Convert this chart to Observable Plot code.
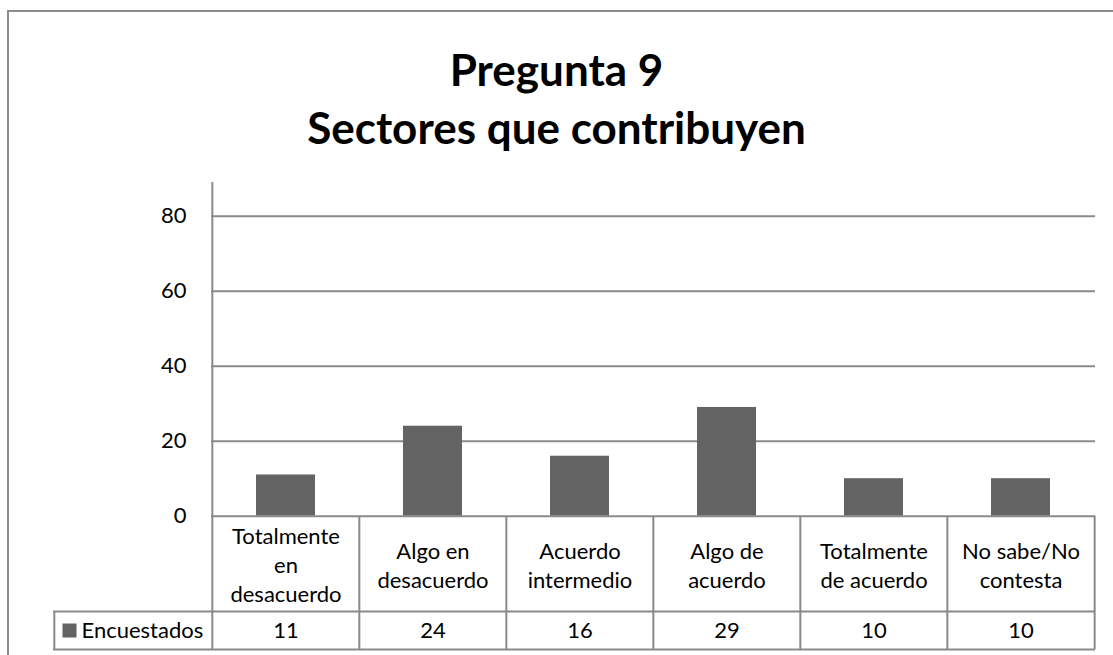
<!DOCTYPE html>
<html>
<head>
<meta charset="utf-8">
<script src="https://cdn.jsdelivr.net/npm/d3@7"></script>
<script src="https://cdn.jsdelivr.net/npm/@observablehq/plot@0.6"></script>
<style>
  html, body { margin: 0; padding: 0; background: #fff; overflow: hidden; }
  body { width: 1113px; height: 655px; position: relative; font-family: Lato, "Open Sans", sans-serif; }
  #box { position: absolute; left: 7px; top: 10px; width: 1200px; height: 800px;
         border-top: 2px solid #8c8c8c; border-left: 2px solid #8c8c8c; box-sizing: border-box; }
  #title { position: absolute; left: 0; top: 40px; width: 1113px; text-align: center;
           font-family: Lato, sans-serif; font-weight: 700; font-size: 44px; line-height: 58px; color: #000; }
  #chart { position: absolute; left: 0; top: 165px; }
</style>
</head>
<body>
<div id="box"></div>
<div id="title">Pregunta 9<br>Sectores que contribuyen</div>
<div id="chart"></div>
<script>
// ---- data ----
const categories = ["Totalmente en desacuerdo", "Algo en desacuerdo", "Acuerdo intermedio", "Algo de acuerdo", "Totalmente de acuerdo", "No sabe/No contesta"];
const tickLabels = ["Totalmente\nen\ndesacuerdo", "Algo en\ndesacuerdo", "Acuerdo\nintermedio", "Algo de\nacuerdo", "Totalmente\nde acuerdo", "No sabe/No\ncontesta"];
const encuestados = [11, 24, 16, 29, 10, 10];
const seriesName = "Encuestados";
const yTickValues = [0, 20, 40, 60, 80];

// ---- layout ----
const W = 1113, H = 490;
const mTop = 17, mBottom = 139.3, mLeft = 211, mRight = 18;
const frameH = H - mTop - mBottom;
const step = (W - mLeft - mRight) / categories.length;
const headerH = 95.3, rowH = 38;
const legendW = 158;
const grid = "#8a8a8a";
const barColor = "#636363";

const rows = categories.map((c, i) => ({cat: c, label: tickLabels[i], value: encuestados[i]}));

const chart = Plot.plot({
  width: W,
  height: H,
  marginTop: mTop,
  marginBottom: mBottom,
  marginLeft: mLeft,
  marginRight: mRight,
  style: {fontFamily: "Lato, 'Open Sans', sans-serif", fontSize: "22px", color: "#000", background: "transparent", overflow: "visible"},
  x: {type: "band", domain: categories, paddingInner: 0.6, paddingOuter: 0.3, axis: null},
  y: {domain: [0, 89], ticks: yTickValues, tickSize: 0, tickPadding: 25, label: null},
  marks: [
    // gridlines
    Plot.ruleY(yTickValues.filter(d => d > 0), {stroke: grid, strokeWidth: 2}),
    // bars
    Plot.barY(rows, {x: "cat", y: "value", fill: barColor}),
    // zero line / top of table
    Plot.ruleY([0], {stroke: grid, strokeWidth: 2}),
    // table row lines
    Plot.ruleY([0], {stroke: grid, strokeWidth: 2, dy: headerH, insetLeft: -legendW}),
    Plot.ruleY([0], {stroke: grid, strokeWidth: 2, dy: headerH + rowH, insetLeft: -legendW}),
    // y axis line continuing down the table
    Plot.ruleX([categories[0]], {dx: -step / 2, stroke: grid, strokeWidth: 2, insetBottom: -(headerH + rowH)}),
    // cell borders
    Plot.ruleX(categories.slice(1), {dx: -step / 2, stroke: grid, strokeWidth: 2, insetTop: frameH, insetBottom: -(headerH + rowH)}),
    Plot.ruleX([categories[categories.length - 1]], {dx: step / 2, stroke: grid, strokeWidth: 2, insetTop: frameH, insetBottom: -(headerH + rowH)}),
    // legend cell left border
    Plot.ruleX([categories[0]], {dx: -step / 2 - legendW, stroke: grid, strokeWidth: 2, insetTop: frameH + headerH, insetBottom: -(headerH + rowH)}),
    // category labels
    Plot.text(rows, {x: "cat", text: "label", frameAnchor: "bottom", dy: headerH / 2, lineAnchor: "middle", lineHeight: 1.32, fill: "#000"}),
    // values
    Plot.text(rows, {x: "cat", text: d => String(d.value), frameAnchor: "bottom", dy: headerH + rowH / 2, lineAnchor: "middle", fill: "#000"}),
    // legend
    Plot.dot([seriesName], {frameAnchor: "bottom-left", symbol: "square", r: 7.9, fill: barColor, dx: -142, dy: headerH + rowH / 2}),
    Plot.text([seriesName], {frameAnchor: "bottom-left", text: d => d, textAnchor: "start", lineAnchor: "middle", dx: -130, dy: headerH + rowH / 2, fill: "#000"})
  ]
});
document.getElementById("chart").appendChild(chart);
</script>
</body>
</html>
